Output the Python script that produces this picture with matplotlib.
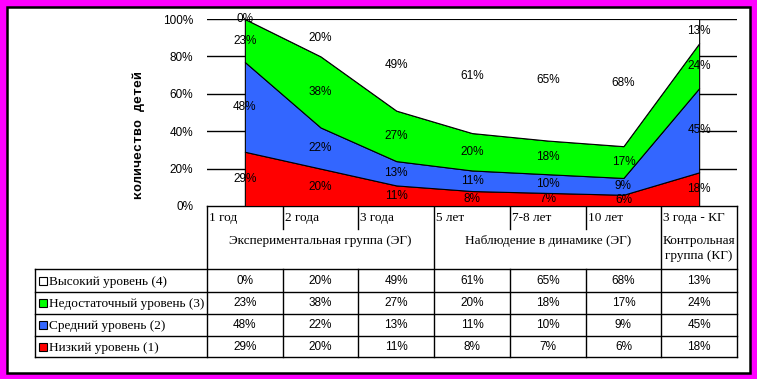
import matplotlib
matplotlib.use("Agg")
import matplotlib.pyplot as plt
from matplotlib.patches import Rectangle
import numpy as np

categories = ["1 год", "2 года", "3 года", "5 лет", "7-8 лет", "10 лет", "3 года - КГ"]
groups = ["Экспериментальная группа (ЭГ)", "Наблюдение в динамике (ЭГ)", "Контрольная\nгруппа (КГ)"]
group_spans = [(0, 3), (3, 6), (6, 7)]
series_names = ["Низкий уровень (1)", "Средний уровень (2)", "Недостаточный уровень (3)", "Высокий уровень (4)"]
low = [29, 20, 11, 8, 7, 6, 18]
mid = [48, 22, 13, 11, 10, 9, 45]
insuff = [23, 38, 27, 20, 18, 17, 24]
high = [0, 20, 49, 61, 65, 68, 13]
colors = ["#FF0000", "#3366FF", "#00FF00", "#FFFFFF"]
ylabel = "количество детей"
yticks = [0, 20, 40, 60, 80, 100]

W, H = 757, 379
fig = plt.figure(figsize=(W / 100, H / 100), dpi=100, facecolor="#FF00FF")

ov = fig.add_axes([0, 0, 1, 1])
ov.set_xlim(0, W)
ov.set_ylim(H, 0)
ov.axis("off")
ov.add_patch(Rectangle((7, 7), 743, 366, facecolor="white", edgecolor="black", lw=1.8, zorder=0))

# plot area layout (pixels)
PX0, PX1, PY0, PY1 = 207, 737, 19, 206
ax = fig.add_axes([PX0 / W, 1 - PY1 / H, (PX1 - PX0) / W, (PY1 - PY0) / H])
ax.set_xlim(-0.5, len(categories) - 0.5)
ax.set_ylim(0, 1)
ax.patch.set_alpha(0)
for s in ax.spines.values():
    s.set_visible(False)

sans = "Liberation Sans"
sans_size = 8.5
data = np.array([low, mid, insuff, high], dtype=float) / 100.0
x = np.arange(len(categories))
for yv in yticks[1:]:
    ax.axhline(yv / 100, color="black", lw=1, zorder=1)
ax.stackplot(x, data, colors=colors, edgecolor="black", linewidth=0.8, zorder=2)

ax.set_yticks([v / 100 for v in yticks])
ax.set_yticklabels([f"{v}%" for v in yticks], fontsize=sans_size, family=sans)
ax.tick_params(axis="y", length=0, pad=10)
ax.set_xticks([])

cum = np.cumsum(data, axis=0)
for si in range(data.shape[0]):
    for ci in range(len(categories)):
        yc = cum[si, ci] - data[si, ci] / 2
        ax.text(x[ci], yc, f"{int(round(data[si, ci]*100))}%", ha="center", va="center",
                fontsize=sans_size, family=sans, zorder=5, clip_on=False)

fig.text(139 / W, 1 - 135 / H, ylabel, rotation=90, ha="center", va="center",
         fontsize=9.5, family="Liberation Mono", fontweight="bold")

# table
CW = (PX1 - PX0) / len(categories)
LX = 35
ytop, ycat, ygrp = 206, 229, 269
row_ys = [269, 292, 314, 336, 357]
lk = dict(color="black", lw=1, zorder=3)
ov.plot([PX0, PX1], [ytop, ytop], **lk)
ov.plot([LX, PX1], [ygrp, ygrp], **lk)
for yy in row_ys[1:]:
    ov.plot([LX, PX1], [yy, yy], **lk)
ov.plot([LX, LX], [ygrp, row_ys[-1]], **lk)
bounds = [a for a, b in group_spans] + [group_spans[-1][1]]
for i in range(len(categories) + 1):
    xx = PX0 + i * CW
    if i in bounds:
        ov.plot([xx, xx], [ytop, row_ys[-1]], **lk)
    else:
        ov.plot([xx, xx], [ytop, ycat], **lk)
        ov.plot([xx, xx], [ygrp, row_ys[-1]], **lk)

serif = "Liberation Serif"
serif_size = 9.5
for i, c in enumerate(categories):
    ov.text(PX0 + i * CW + 2, 218, c, ha="left", va="center", fontsize=serif_size, family=serif)
for g, (a, b) in zip(groups, group_spans):
    ov.text(PX0 + (a + b) / 2 * CW, 235, g, ha="center", va="top", fontsize=serif_size,
            family=serif, linespacing=1.35)

table_order = [3, 2, 1, 0]
for r, si in enumerate(table_order):
    yc = (row_ys[r] + row_ys[r + 1]) / 2
    ov.add_patch(Rectangle((LX + 4, yc - 4), 8, 8, facecolor=colors[si], edgecolor="black", lw=0.8, zorder=3))
    ov.text(LX + 14, yc + 1, series_names[si], ha="left", va="center", fontsize=serif_size, family=serif)
    for ci in range(len(categories)):
        ov.text(PX0 + (ci + 0.5) * CW, yc, f"{int(round(data[si, ci]*100))}%", ha="center",
                va="center", fontsize=sans_size, family=sans)

fig.savefig("out.png", dpi=100, facecolor=fig.get_facecolor())
